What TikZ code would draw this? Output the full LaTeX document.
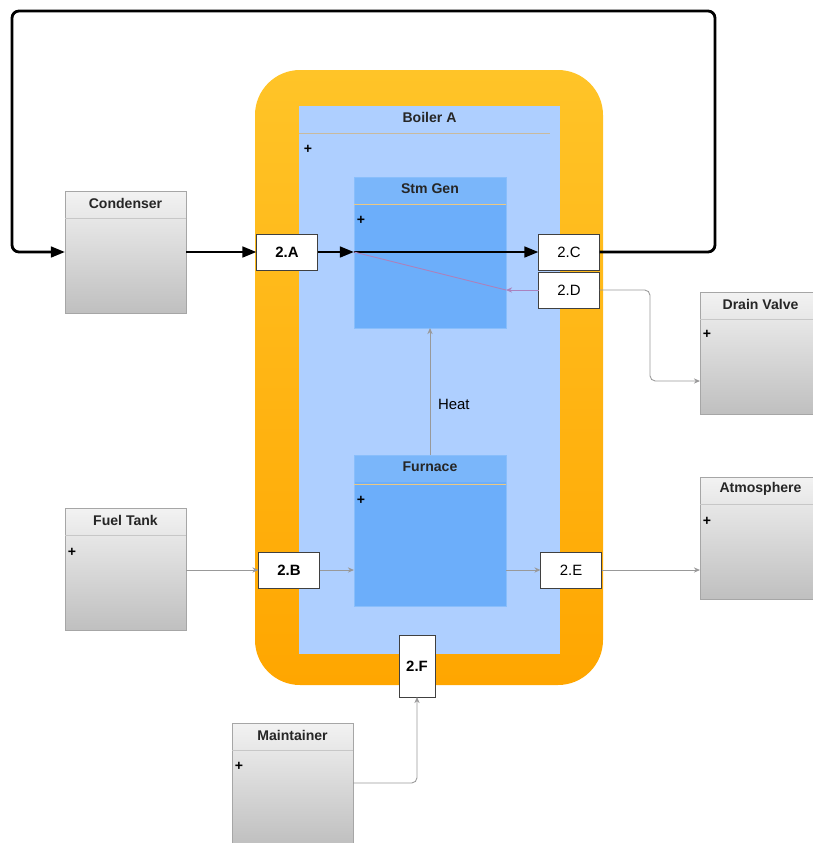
\documentclass[tikz,border=0pt]{standalone}
\usepackage{fontspec}
\setmainfont{Liberation Sans}
\usetikzlibrary{arrows.meta, positioning}

\definecolor{BoilerOrangeTop}{RGB}{255,196,40}
\definecolor{BoilerOrangeBot}{RGB}{255,166,0}
\definecolor{BoilerBlue}{RGB}{174,207,255}
\definecolor{PartBlue}{RGB}{108,174,250}
\definecolor{PartLine}{RGB}{236,200,130}
\definecolor{FlowPurple}{RGB}{170,130,190}

\newcommand{\px}{0.02cm}
% name, style, x, y (north west), title
\newcommand{\ClassBox}[5]{%
  \node[#2] (#1) at (#3,#4) {};
  \node[title] at ([yshift=-12*\px]#1.north) {#5};
}

\begin{document}
\begin{tikzpicture}[x=0.02cm, y=-0.02cm,
    title/.style={font=\fontsize{8}{9}\selectfont\bfseries, text=black!85},
    graybox/.style={draw=black!35, anchor=north west, inner sep=0pt, outer sep=0pt,
      top color=black!5, bottom color=black!25, minimum width=121*\px, minimum height=122*\px},
    partbox/.style={draw=PartBlue!80!white, anchor=north west, inner sep=0pt, outer sep=0pt,
      fill=PartBlue, minimum width=152*\px, minimum height=151*\px,
      path picture={\fill[white, opacity=0.1] (path picture bounding box.north west)
        rectangle ([yshift=-27*\px]path picture bounding box.north east);}},
    port/.style={draw=black!75, fill=white, inner sep=0pt, outer sep=0pt,
      font=\fontsize{8.5}{10}\selectfont, minimum width=61*\px, minimum height=36*\px},
    bport/.style={port, font=\fontsize{8.5}{10}\selectfont\bfseries},
    plus/.style={font=\fontsize{8}{9}\selectfont\bfseries, inner sep=0pt},
    steam/.style={line width=1.6pt, -{Triangle[length=8pt,width=6pt]}, rounded corners=4pt},
    flow/.style={draw=black!40, line width=0.5pt, -{Stealth[length=3.5pt,width=3pt,fill=FlowPurple!70]}, rounded corners=3pt},
  ]
  \useasboundingbox (0,0) rectangle (813,843);

  % boiler A
  \node[anchor=north west, rounded corners=45*\px, top color=BoilerOrangeTop, bottom color=BoilerOrangeBot,
    minimum width=348*\px, minimum height=615*\px, inner sep=0pt, outer sep=0pt] (shell) at (255,70) {};
  \node[anchor=north west, fill=BoilerBlue, minimum width=261*\px, minimum height=548*\px,
    inner sep=0pt, outer sep=0pt] (boiler) at (299,106) {};
  \node[title] at ([yshift=-11*\px]boiler.north) {Boiler A};
  \draw[PartLine!70!black!60] (299,133) -- (550,133);
  \node[plus] at (308,149) {+};

  % parts
  \ClassBox{stm}{partbox}{354}{177}{Stm Gen}
  \ClassBox{furn}{partbox}{354}{455}{Furnace}
  \draw[PartLine] ([yshift=-27*\px]stm.north west) -- ([yshift=-27*\px]stm.north east);
  \draw[PartLine] ([yshift=-29*\px]furn.north west) -- ([yshift=-29*\px]furn.north east);
  \node[plus] at (361,220) {+};
  \node[plus] at (361,500) {+};

  % outside
  \ClassBox{cond}{graybox}{65}{191}{Condenser}
  \ClassBox{drain}{graybox}{700}{292}{Drain Valve}
  \ClassBox{atm}{graybox}{700}{477}{Atmosphere}
  \ClassBox{fuel}{graybox}{65}{508}{Fuel Tank}
  \ClassBox{maint}{graybox}{232}{723}{Maintainer}
  \foreach \b in {cond, drain, atm, fuel, maint}
    \draw[black!22] ([yshift=-27*\px]\b.north west) -- ([yshift=-27*\px]\b.north east);
  \node[plus] at (707,334) {+};
  \node[plus] at (707,521) {+};
  \node[plus] at (72,552) {+};
  \node[plus] at (239,766) {+};

  % ports
  \node[bport] (A) at (287,252) {2.A};
  \node[port] (C) at (569,252) {2.C};
  \node[port] (D) at (569,290) {2.D};
  \node[bport] (B) at (289,570) {2.B};
  \node[port] (E) at (571,570) {2.E};
  \node[bport, minimum width=36*\px, minimum height=62*\px] (F) at (417,666) {2.F};

  % steam loop
  \coordinate (sgin) at (A.east -| stm.west);
  \draw[steam] (cond.east |- A) -- (A.west);
  \draw[steam] (A.east) -- (sgin);
  \draw[steam] (sgin) -- (C.west);
  \draw[steam] (C.east) -- (715,252) |- (12,11) |- (cond.west |- A);

  % drain
  \draw[FlowPurple, line width=0.5pt] (sgin) -- (stm.east |- D);
  \draw[flow, draw=FlowPurple] (D.west) -- (stm.east |- D);
  \draw[flow] (D.east) -| (650,381) -- (drain.west |- 0,381);

  % heat and fuel
  \draw[flow] (furn.north) -- (stm.south) node[pos=0.4, right=1pt, font=\fontsize{8.5}{10}\selectfont] {Heat};
  \draw[flow] (fuel.east |- B) -- (B.west);
  \draw[flow] (B.east) -- (furn.west |- B);
  \draw[flow] (furn.east |- E) -- (E.west);
  \draw[flow] (E.east) -- (atm.west |- E);
  \draw[flow] (maint.east |- 0,783) -| (F.south);
\end{tikzpicture}
\end{document}
